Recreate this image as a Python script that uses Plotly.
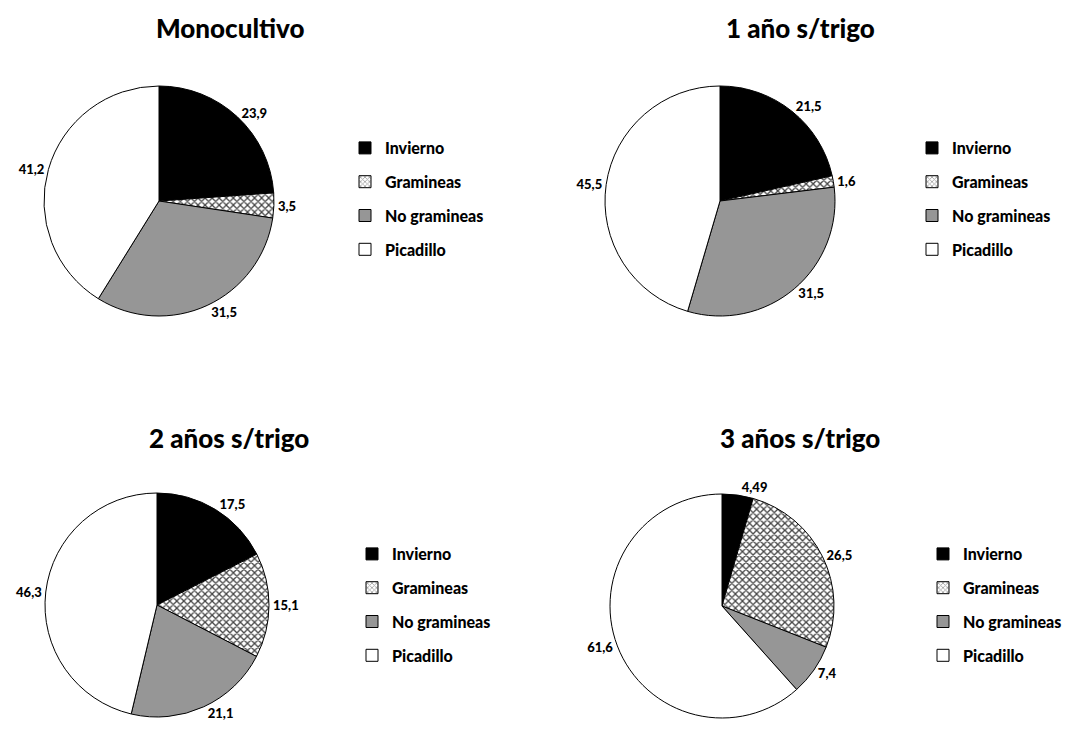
import plotly.graph_objects as go

W, H = 1083, 745

categories = ["Invierno", "Gramineas", "No gramineas", "Picadillo"]
titles = ["Monocultivo", "1 año s/trigo", "2 años s/trigo", "3 años s/trigo"]

monocultivo = [23.9, 3.5, 31.5, 41.2]
un_anio = [21.5, 1.6, 31.5, 45.5]
dos_anios = [17.5, 15.1, 21.1, 46.3]
tres_anios = [4.49, 26.5, 7.4, 61.6]
series = [monocultivo, un_anio, dos_anios, tres_anios]

# slice styling per category
colors = ["#000000", "#ffffff", "#969696", "#ffffff"]
pattern_shapes = ["", "x", "", ""]
FONT = "Lato"

# layout in pixels: pie centre, pie radius, title centre, legend top-left
pie_centres = [(159, 201), (720, 201), (157, 605), (722, 606)]
radii = [115, 115, 112, 112]
title_pos = [(230, 28), (800, 28), (229, 438), (800, 438)]
legend_pos = [(345, 131), (912, 131), (352, 537), (923, 537)]


def fmt(v):
    return f"{v:g}".replace(".", ",")


def px_x(x):
    return x / W


def px_y(y):
    return 1 - y / H


fig = go.Figure()

for i, vals in enumerate(series):
    cx, cy = pie_centres[i]
    r = radii[i]
    fig.add_trace(go.Pie(
        labels=categories,
        values=vals,
        text=[fmt(v) for v in vals],
        texttemplate="%{text}",
        textposition="outside",
        textfont=dict(family=FONT, size=13, color="black", weight=900),
        sort=False,
        direction="clockwise",
        rotation=0,
        showlegend=False,
        marker=dict(
            colors=colors,
            line=dict(color="black", width=1),
            pattern=dict(shape=pattern_shapes, fgcolor="#444444",
                         bgcolor="#ffffff", size=5, solidity=0.45),
        ),
        domain=dict(x=[px_x(cx - r), px_x(cx + r)],
                    y=[px_y(cy + r), px_y(cy - r)]),
        hoverinfo="label+value",
    ))

    # legend entries for this pie
    leg_name = "legend" if i == 0 else f"legend{i + 1}"
    for j, cat in enumerate(categories):
        fig.add_trace(go.Bar(
            x=[None], y=[None], name=cat,
            legend=leg_name,
            legendgroup=f"{leg_name}-{cat}",
            marker=dict(color=colors[j],
                        line=dict(color="black", width=1),
                        pattern=dict(shape=pattern_shapes[j], fgcolor="#444444",
                                     bgcolor="#ffffff", size=4, solidity=0.45)),
            showlegend=True,
        ))

    tx, ty = title_pos[i]
    fig.add_annotation(
        x=px_x(tx), y=px_y(ty), xref="paper", yref="paper",
        text=titles[i], showarrow=False,
        font=dict(family=FONT, size=26, color="black", weight=900),
        xanchor="center", yanchor="middle",
    )

legend_common = dict(
    xanchor="left", yanchor="top",
    font=dict(family=FONT, size=16, color="black", weight=900),
    tracegroupgap=10,
    bgcolor="rgba(0,0,0,0)",
    traceorder="grouped",
)
layout_legends = {}
for i, (lx, ly) in enumerate(legend_pos):
    key = "legend" if i == 0 else f"legend{i + 1}"
    layout_legends[key] = dict(x=px_x(lx), y=px_y(ly), **legend_common)

fig.update_layout(
    width=W, height=H,
    margin=dict(l=0, r=0, t=0, b=0),
    paper_bgcolor="white",
    plot_bgcolor="white",
    xaxis=dict(visible=False),
    yaxis=dict(visible=False),
    **layout_legends,
)

fig.write_html("out.html")
